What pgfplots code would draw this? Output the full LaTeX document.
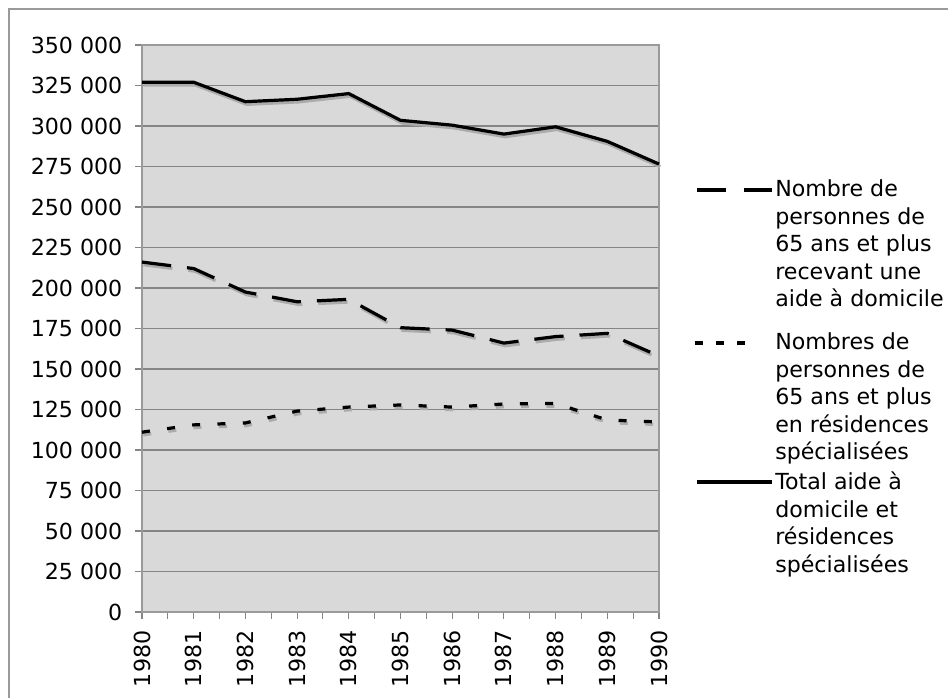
\documentclass[border=0pt]{standalone}
\usepackage{pgfplots}
\pgfplotsset{compat=1.18}
\usepackage{pgfplotstable}
\usepackage{fontspec}
\setmainfont{DejaVu Sans}
\definecolor{bg}{HTML}{D9D9D9}
\definecolor{gridc}{HTML}{858585}
\definecolor{framec}{HTML}{9A9A9A}
\definecolor{shadowc}{HTML}{ABABAB}

\pgfplotstableread{
year home res total
1980 216000 111000 327000
1981 212000 115500 327000
1982 197500 116700 315000
1983 191500 124000 316500
1984 193000 126500 320000
1985 175500 127800 303500
1986 174000 126500 300500
1987 166000 128400 295000
1988 170000 128700 299500
1989 172000 118500 290500
1990 158000 117300 276500
}\data

\newcommand{\lfont}{\fontsize{16.6}{20.6}\selectfont}

\begin{document}
\begin{tikzpicture}
\path[use as bounding box] (0,0) rectangle (711pt,523.5pt);
\draw[color=framec, line width=1pt] (6.75pt,0) -- (6.75pt,516.75pt) -- (711pt,516.75pt);
\begin{axis}[
  at={(106.5pt,64.5pt)}, anchor=south west,
  scale only axis, width=387.75pt, height=425.25pt,
  xmin=1980, xmax=1990, ymin=0, ymax=350000,
  axis background/.style={fill=bg},
  axis line style={framec, line width=1.2pt},
  xtick={1980,1981,1982,1983,1984,1985,1986,1987,1988,1989,1990},
  xticklabels={1980,1981,1982,1983,1984,1985,1986,1987,1988,1989,1990},
  minor x tick num=1,
  xtick pos=bottom, ytick pos=left,
  ytick={0,25000,50000,75000,100000,125000,150000,175000,200000,225000,250000,275000,300000,325000,350000},
  yticklabels={0,25\ 000,50\ 000,75\ 000,100\ 000,125\ 000,150\ 000,175\ 000,200\ 000,225\ 000,250\ 000,275\ 000,300\ 000,325\ 000,350\ 000},
  scaled y ticks=false,
  tick align=outside,
  major tick length=5.25pt, minor tick length=5.25pt,
  every tick/.style={gridc, line width=0.8pt},
  ymajorgrids, major grid style={gridc, line width=0.8pt},
  tick label style={font=\fontsize{16.6}{19}\selectfont, text=black},
  xticklabel style={rotate=90, anchor=east, xshift=-5.25pt},
  yticklabel style={anchor=east, xshift=-6pt},
  clip=false,
]
% shadows
\addplot[shadowc, line width=2.4pt, dash pattern=on 22pt off 12pt, xshift=1pt, yshift=-2pt, forget plot] table[x=year,y=home]{\data};
\addplot[shadowc, line width=2.4pt, dash pattern=on 6pt off 13pt, xshift=1pt, yshift=-2pt, forget plot] table[x=year,y=res]{\data};
\addplot[shadowc, line width=2.4pt, xshift=1pt, yshift=-2pt, forget plot] table[x=year,y=total]{\data};
% series
\addplot[black, line width=2.4pt, dash pattern=on 22pt off 12pt] table[x=year,y=home]{\data};
\addplot[black, line width=2.4pt, dash pattern=on 6pt off 13pt] table[x=year,y=res]{\data};
\addplot[black, line width=2.4pt] table[x=year,y=total]{\data};
\end{axis}
% legend
\draw[black, line width=2.6pt, dash pattern=on 22pt off 13pt] (522.75pt,381pt) -- (579pt,381pt);
\node[anchor=base west, inner sep=0pt, font=\lfont] at (581.25pt,375.75pt)
  {\parbox[t]{140pt}{\raggedright Nombre de\\personnes de\\65 ans et plus\\recevant une\\aide à domicile}};
\draw[black, line width=2.6pt, dash pattern=on 6pt off 9.75pt] (521.25pt,266.25pt) -- (559pt,266.25pt);
\node[anchor=base west, inner sep=0pt, font=\lfont] at (581.25pt,261pt)
  {\parbox[t]{140pt}{\raggedright Nombres de\\personnes de\\65 ans et plus\\en résidences\\spécialisées}};
\draw[black, line width=2.6pt] (522.75pt,162pt) -- (579pt,162pt);
\node[anchor=base west, inner sep=0pt, font=\lfont] at (581.25pt,156pt)
  {\parbox[t]{140pt}{\raggedright Total aide à\\domicile et\\résidences\\spécialisées}};
\end{tikzpicture}
\end{document}
